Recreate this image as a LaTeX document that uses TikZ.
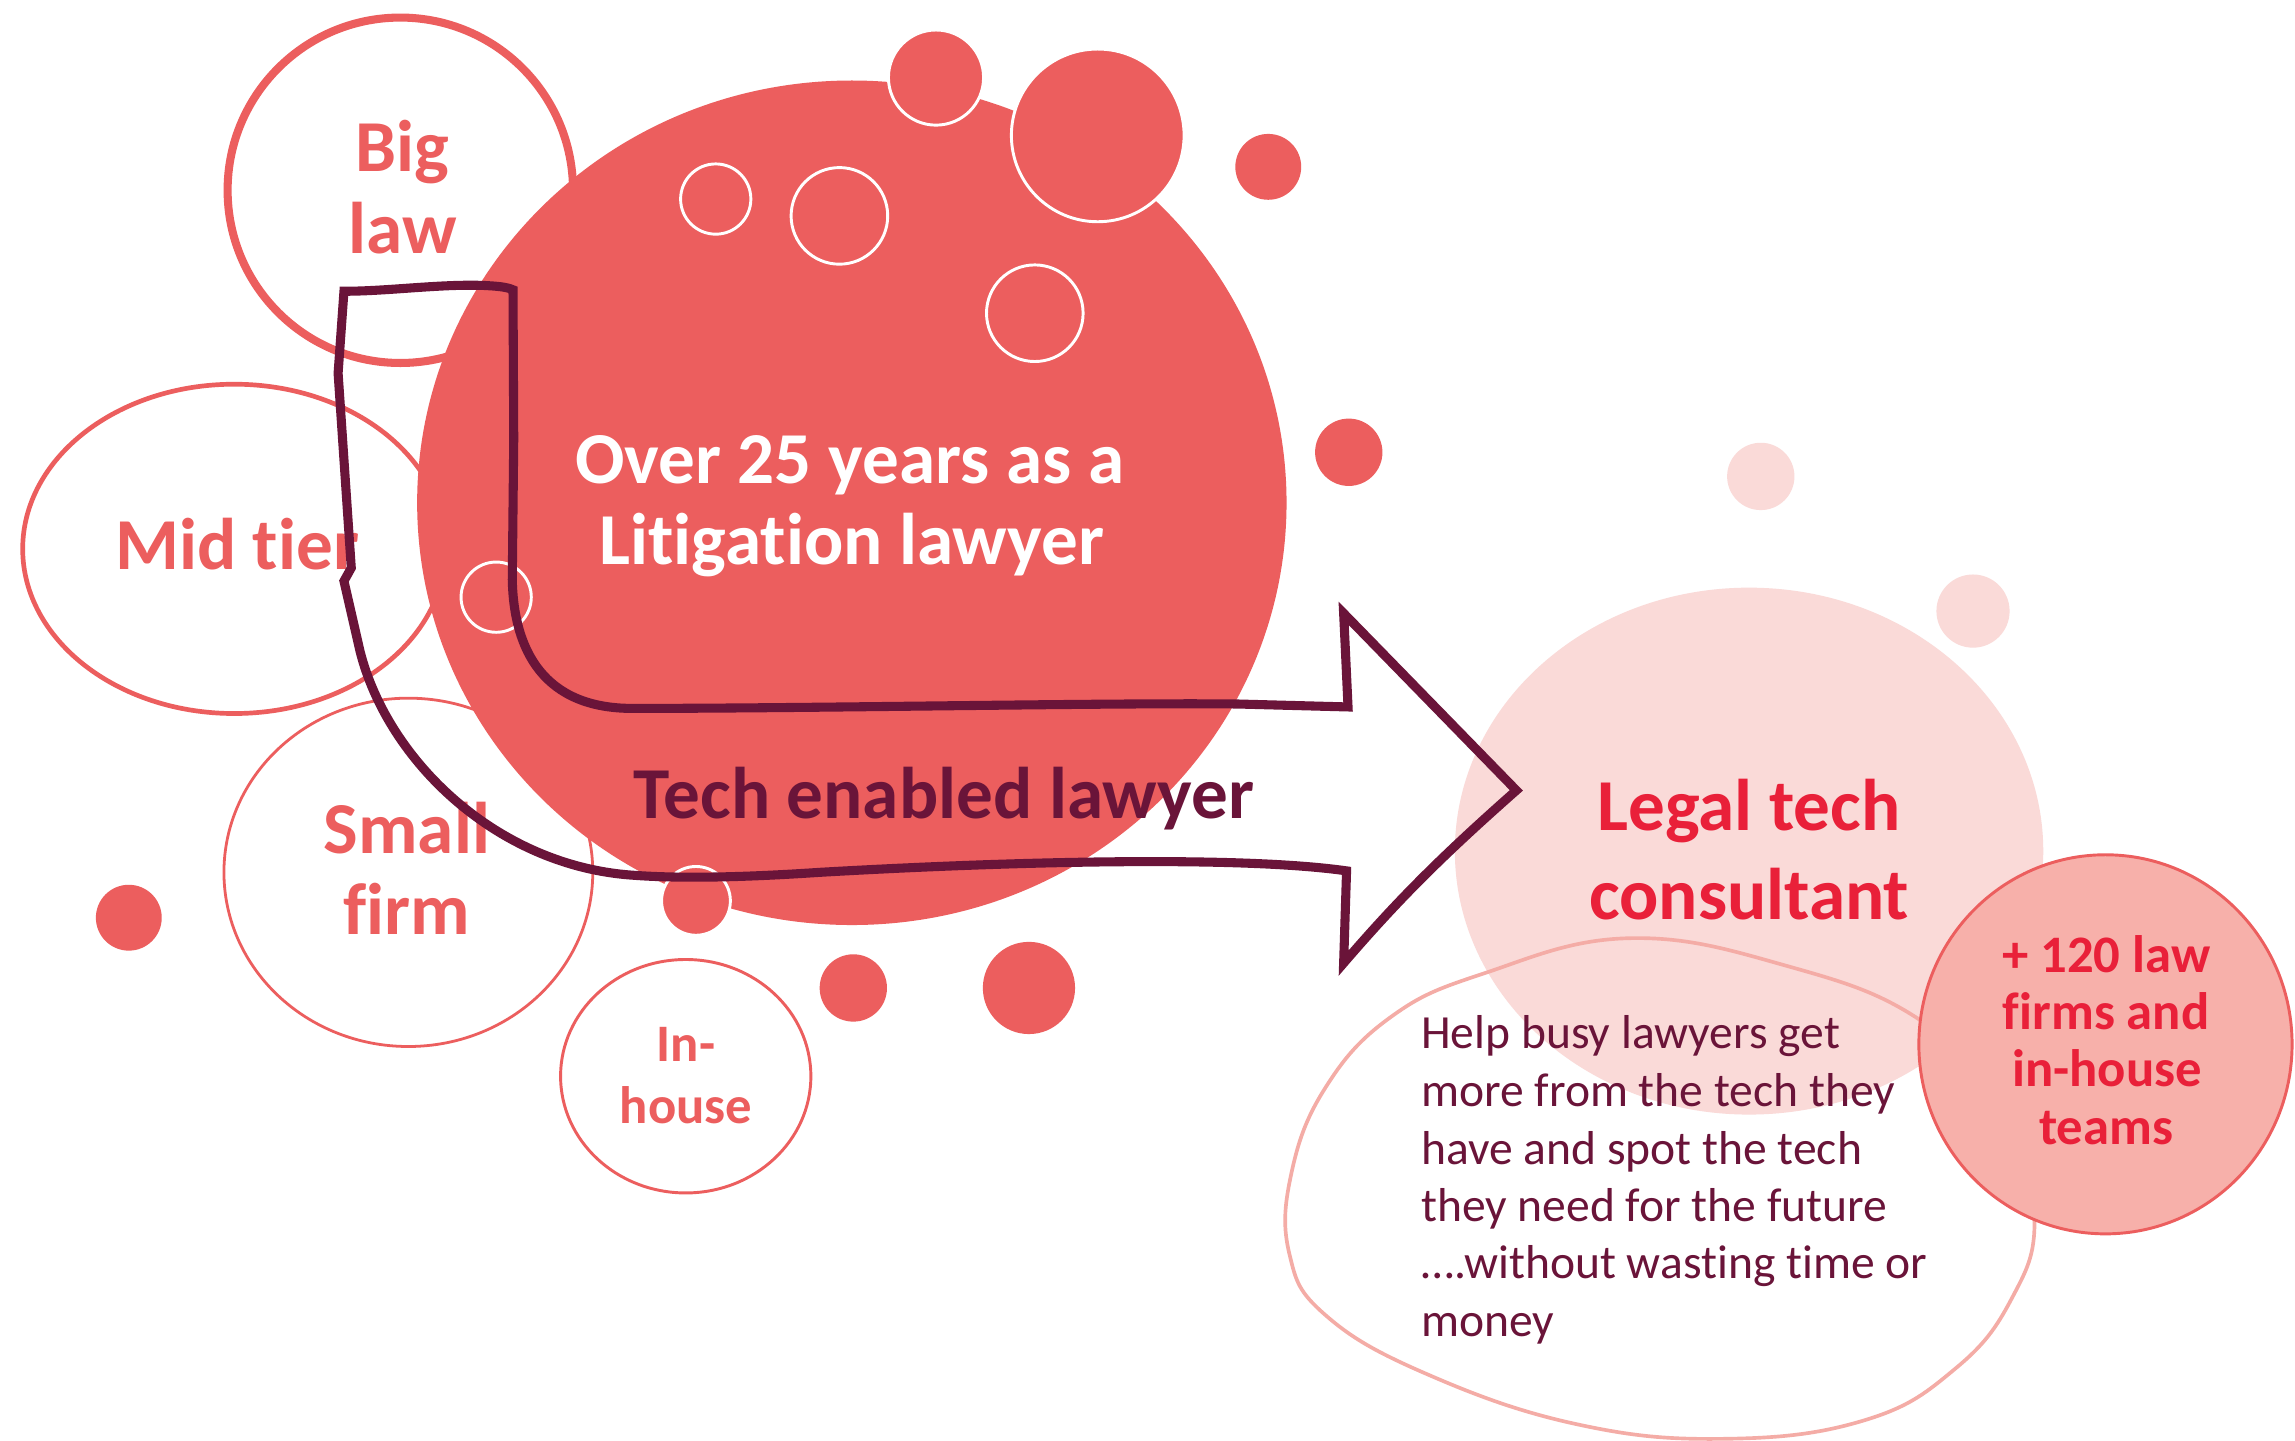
\documentclass[tikz,border=0pt]{standalone}
\usepackage{fontspec}
\setmainfont{Carlito}[Ligatures=NoCommon]
\usetikzlibrary{shapes.geometric}
\definecolor{coral}{HTML}{EC5E5E}
\definecolor{maroon}{HTML}{6A1439}
\definecolor{blush}{HTML}{FADAD8}
\definecolor{salmon}{HTML}{F7B0AA}
\definecolor{bubbleline}{HTML}{F4ACA6}
\definecolor{legalred}{HTML}{E92039}
\tikzset{
  lbl/.style={inner sep=0pt, anchor=base},
  lblw/.style={inner sep=0pt, anchor=base west},
  bigtxt/.style={font=\fontsize{50}{56}\selectfont\bfseries},
  midtxt/.style={font=\fontsize{36}{40}\selectfont\bfseries},
  smalltxt/.style={font=\fontsize{32.5}{39}\selectfont},
  ring/.style={ellipse, draw=coral, fill=none, inner sep=0pt},
  solid dot/.style={fill=coral},
  rimmed dot/.style={fill=coral, draw=white, line width=2pt},
  hollow dot/.style={draw=white, line width=2pt},
  pink dot/.style={fill=blush},
  arrowline/.style={draw=maroon, line width=6.2pt, line join=miter}
}
\begin{document}
\begin{tikzpicture}[x=1pt,y=-1pt]
\useasboundingbox[fill=white] (0,0) rectangle (1568,984);

% outlined category circles (behind the big disc)
\node[ring, line width=5.5pt, minimum width=236pt, minimum height=236pt] (biglawring) at (273.5,130) {};
\node[ring, line width=3.2pt, minimum width=289pt, minimum height=225pt] (midring) at (160,375) {};
\node[ring, line width=1.9pt, minimum width=252pt, minimum height=238pt] (smallring) at (279,596) {};
\node[ring, line width=2pt, minimum width=171pt, minimum height=159.5pt] (inhousering) at (468.5,735.3) {};

% big disc
\node[ellipse, fill=coral, inner sep=0pt, minimum width=594pt, minimum height=577pt] (bigdisc) at (582,343.5) {};

% dots around / on the big disc
\path[rimmed dot] (639.5,53) circle[radius=32.5pt];
\path[rimmed dot] (750,92.5) circle[radius=59pt];
\path[solid dot] (866.5,114) circle[radius=22.5pt];
\path[solid dot] (921.5,309) circle[radius=23pt];
\path[solid dot] (88,627) circle[radius=22.5pt];
\path[rimmed dot] (475.5,615.5) circle[radius=23.5pt];
\path[solid dot] (583,675) circle[radius=23pt];
\path[solid dot] (703,675) circle[radius=31.5pt];
\path[hollow dot] (489,136) circle[radius=24pt];
\path[hollow dot] (573.5,147.5) circle[radius=33pt];
\path[hollow dot] (707,214) circle[radius=33pt];
\path[hollow dot] (339,408) circle[radius=24pt];

% right-hand group
\node[ellipse, fill=blush, inner sep=0pt, minimum width=402pt, minimum height=360pt] (legaldisc) at (1195,581.5) {};
\path[pink dot] (1203,325.5) circle[radius=23pt];
\path[pink dot] (1348,417.5) circle[radius=25pt];

\draw[bubbleline, line width=2.5pt] plot[smooth cycle, tension=0.7] coordinates {
  (1113,641) (1221,660) (1312,697) (1372,760) (1390,833) (1374,888)
  (1336,935) (1275,970) (1180,983) (1077,973) (973,938) (905,898)
  (881,857) (882,803) (905,744) (950,695) (1014,665)};

\node[ellipse, fill=salmon, draw=coral, line width=2pt, inner sep=0pt, minimum width=255pt, minimum height=259pt] (countdisc) at (1438.5,713.5) {};

% texts
\node[lbl, bigtxt, text=coral] (big1) at (275,117.3) {Big};
\node[lbl, bigtxt, text=coral] (big2) at (275,173) {law};
\node[lbl, bigtxt, text=coral] (mid1) at (162,389.4) {Mid tier};
\node[lbl, bigtxt, text=coral] (small1) at (278,583.3) {Small};
\node[lbl, bigtxt, text=coral] (small2) at (278,638.6) {firm};
\node[lbl, midtxt, text=coral] (inh1) at (468.7,725) {In-};
\node[lbl, midtxt, text=coral] (inh2) at (468.7,767.5) {house};
\node[lbl, bigtxt, text=white] (over1) at (580.5,330.2) {Over 25 years as a};
\node[lbl, bigtxt, text=white] (over2) at (582,386) {Litigation lawyer};

% the bent arrow
\path[arrowline]
  (235,199) .. controls (265,199) and (300,194) .. (330,195)
  .. controls (340,195.5) and (346,196) .. (350.5,198)
  -- (351,300) -- (350,396)
  .. controls (351,445) and (372,484) .. (432,484)
  .. controls (560,484) and (760,480) .. (846,481)
  -- (921,483) -- (919,440) -- (918,419)
  -- (1036,540)
  .. controls (985,585) and (955,615) .. (918,658)
  -- (920,595)
  .. controls (850,585) and (700,588) .. (560,596)
  .. controls (500,600) and (460,600) .. (433,598)
  .. controls (340,592) and (265,520) .. (246,445)
  -- (235,397) -- (240,388) -- (231,255) -- cycle;

\node[lbl, bigtxt, text=maroon] (tech) at (645,559) {Tech enabled lawyer};
\node[lbl, bigtxt, text=legalred] (legal1) at (1195,567.5) {Legal tech};
\node[lbl, bigtxt, text=legalred] (legal2) at (1195,628.5) {consultant};
\node[lbl, midtxt, text=legalred] (cnt1) at (1439,664.2) {+ 120 law};
\node[lbl, midtxt, text=legalred] (cnt2) at (1439,703.4) {firms and};
\node[lbl, midtxt, text=legalred] (cnt3) at (1439.5,742.6) {in-house};
\node[lbl, midtxt, text=legalred] (cnt4) at (1439,781.7) {teams};
\node[lblw, smalltxt, text=maroon] (help1) at (970.8,716.3) {Help busy lawyers get};
\node[lblw, smalltxt, text=maroon] (help2) at (970.8,756.1) {more from the tech they};
\node[lblw, smalltxt, text=maroon] (help3) at (970.8,795.3) {have and spot the tech};
\node[lblw, smalltxt, text=maroon] (help4) at (970.8,834.4) {they need for the future};
\node[lblw, smalltxt, text=maroon] (help5) at (970.8,873.6) {….without wasting time or};
\node[lblw, smalltxt, text=maroon] (help6) at (970.8,912.8) {money};
\end{tikzpicture}
\end{document}
